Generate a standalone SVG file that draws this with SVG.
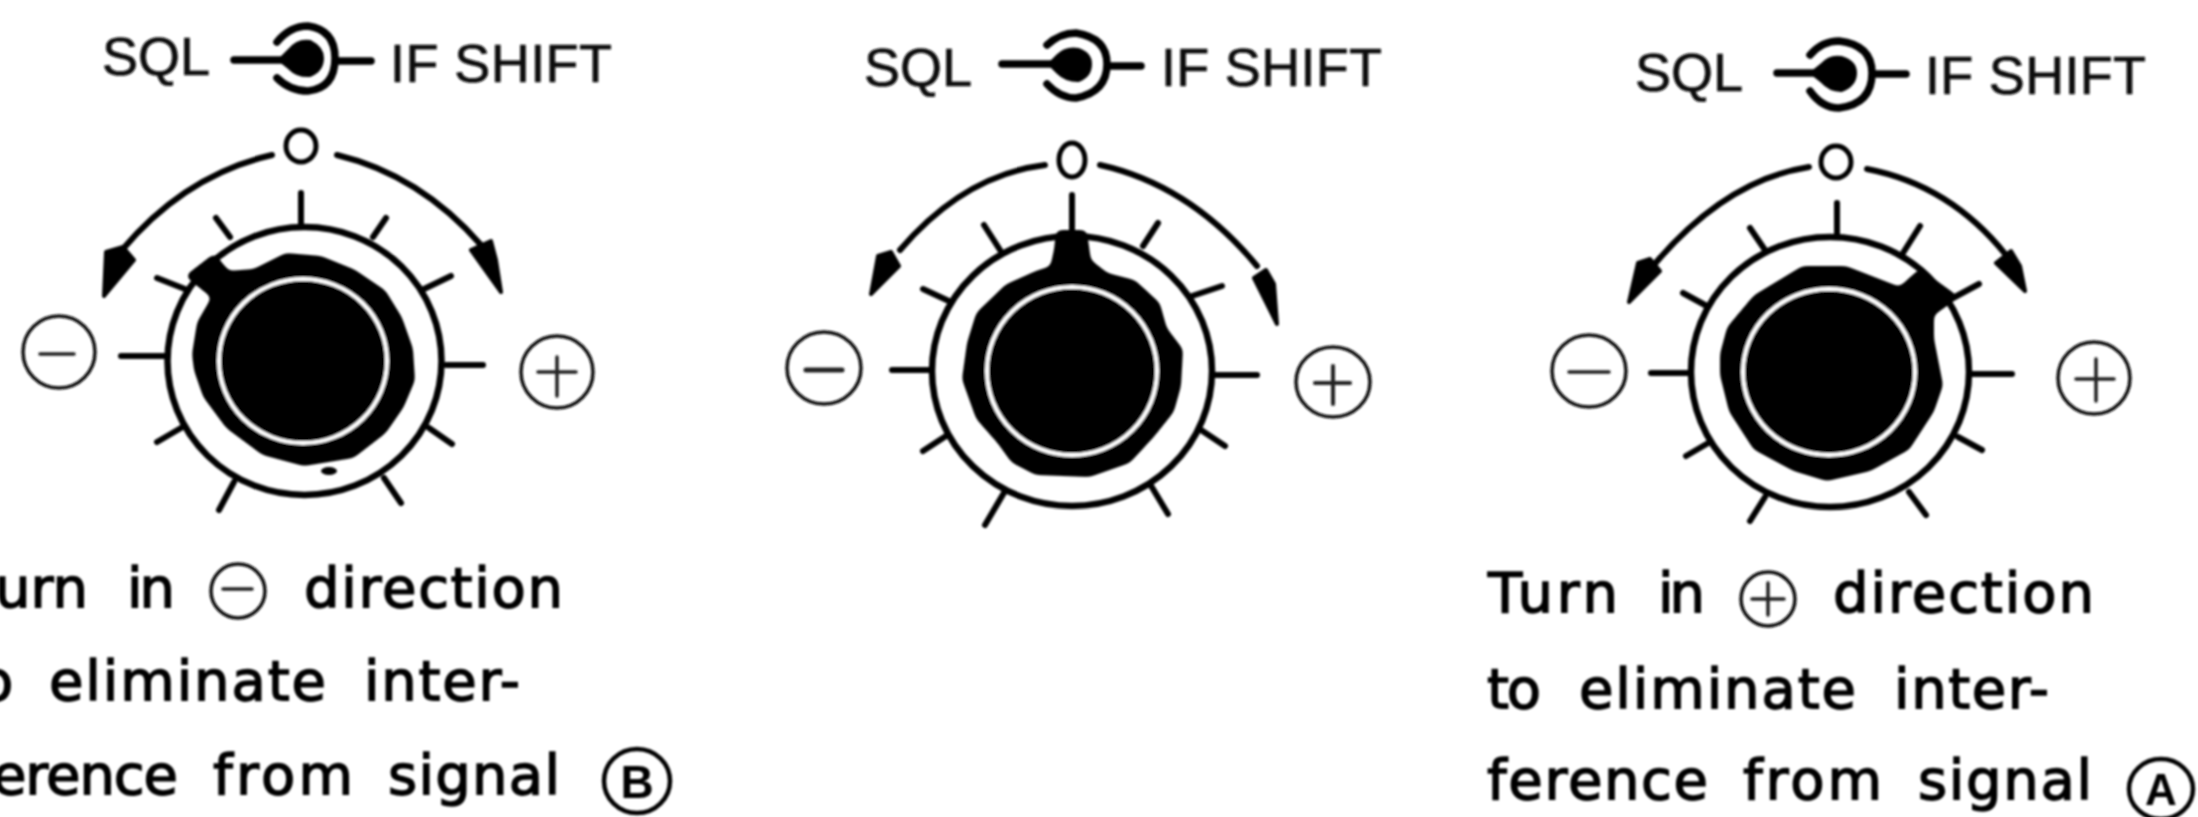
<svg xmlns="http://www.w3.org/2000/svg" width="2198" height="817" viewBox="0 0 2198 817">
<style>
.t{font-family:"Liberation Sans",Arial,sans-serif;fill:#000}
.l{font-size:54px;fill:#111;stroke:#111;stroke-width:.7px}
.b{font-family:"DejaVu Sans","Liberation Sans",sans-serif;font-size:56px;stroke:#000;stroke-width:1.5px}
.r{fill:none;stroke:#000;stroke-width:6.500}
.s{fill:none;stroke:#000;stroke-width:6;stroke-linecap:round}
.a{fill:none;stroke:#000;stroke-width:6;stroke-linecap:round}
.k{fill:#000;stroke:#000;stroke-width:4;stroke-linejoin:round;filter:url(#goo)}
.w{fill:none;stroke:#fff;stroke-width:4}
.c{fill:none;stroke:#111;stroke-width:3.500}
.o{fill:none;stroke:#000;stroke-width:5}
.m{fill:none;stroke:#222;stroke-width:3.500;stroke-linecap:round}
.f{fill:#000;stroke:#000;stroke-width:4;stroke-linejoin:round}
.sw{fill:none;stroke:#000;stroke-width:7.500;stroke-linecap:round}
</style>
<defs>
<filter id="soft" x="-2%" y="-2%" width="104%" height="104%"><feGaussianBlur stdDeviation="0.8"/></filter>
<filter id="goo" x="-10%" y="-10%" width="120%" height="120%"><feGaussianBlur stdDeviation="3"/><feComponentTransfer><feFuncA type="linear" slope="8" intercept="-3.500"/></feComponentTransfer></filter>
</defs>
<rect width="2198" height="817" fill="#fff"/>
<g filter="url(#soft)">
<g id="dial-left">
<text class="t l" x="102" y="75" textLength="108">SQL</text>
<text class="t l" x="390" y="82" textLength="222">IF SHIFT</text>
<path class="sw" d="M234,60H286M277,42Q290,26 308,26Q335,30 335,58Q335,88 308,91Q290,91 277,78M339,61H371"/>
<path class="f" d="M280,60L290,50Q298,40 310,42Q322,48 322,58Q322,70 310,75Q298,76 290,68Z"/>
<ellipse class="o" cx="301" cy="146" rx="15" ry="16"/>
<path class="a" d="M272,155Q185,175 122,250M337,155Q420,175 481,245"/>
<path class="f" d="M104,296L106,252L123,247L134,260Z"/>
<path class="f" d="M501,292L471,250L491,241L496,260Z"/>
<ellipse class="r" cx="304.500" cy="361" rx="137" ry="134"/>
<path class="s" d="M121,356H166M446,365H483M301,193V224M216,218L230,237M386,218L373,237M157,278L185,289M451,276L424,289M157,442L181,428M452,444L429,428M219,510L234,482M401,503L384,478"/>
<path class="k" d="M194,354L199,323L214,297L188,276L214,256L228,273L254,271L286,255L321,258L353,271L384,292L400,318L411,349L413,380L402,406L384,432L353,456L304,464L263,453L228,427L205,396L196,370Z"/>
<ellipse class="w" cx="303" cy="361" rx="84" ry="82"/>
<ellipse cx="329" cy="471" rx="8" ry="4" fill="#000"/>
<ellipse class="c" cx="59" cy="352" rx="36" ry="36"/>
<path class="m" d="M40,354H74"/>
<ellipse class="c" cx="557" cy="372" rx="36" ry="36"/>
<path class="m" d="M538,372H576M557,357V396"/>
<text class="t b" x="-5" y="607" textLength="93">urn</text>
<text class="t b" x="127" y="607" textLength="48">in</text>
<ellipse class="c" cx="238" cy="591" rx="27" ry="27"/>
<path class="m" d="M223,589H252"/>
<text class="t b" x="304" y="607" textLength="259">direction</text>
<text class="t b" x="-21" y="700" textLength="32">o</text>
<text class="t b" x="49" y="700" textLength="277">eliminate</text>
<text class="t b" x="364" y="700" textLength="156">inter-</text>
<text class="t b" x="-8" y="794" textLength="186">erence</text>
<text class="t b" x="213" y="794" textLength="140">from</text>
<text class="t b" x="388" y="794" textLength="172">signal</text>
<ellipse cx="637" cy="781" rx="33" ry="32" fill="none" stroke="#000" stroke-width="4.500"/>
<text class="t" x="637" y="798" text-anchor="middle" font-size="46" font-weight="700">B</text>
</g>
<g id="dial-center">
<text class="t l" x="864" y="86" textLength="108">SQL</text>
<text class="t l" x="1161" y="86" textLength="221">IF SHIFT</text>
<path class="sw" d="M1002,64H1054M1047,45Q1060,33 1076,33Q1107,38 1107,64Q1107,92 1076,98Q1060,98 1047,84M1107,66H1141"/>
<path class="f" d="M1050,64L1058,56Q1066,48 1078,50Q1090,54 1090,64Q1090,76 1078,80Q1066,80 1058,72Z"/>
<ellipse class="o" cx="1072" cy="160" rx="13" ry="17"/>
<path class="a" d="M1045,165Q964,175 900,250M1100,165Q1190,185 1257,266"/>
<path class="f" d="M871,294L878,256L891,252L899,266Z"/>
<path class="f" d="M1277,324L1254,278L1266,270L1274,284Z"/>
<ellipse class="r" cx="1072" cy="371" rx="140" ry="135"/>
<path class="s" d="M892,370H931M1214,375H1257M1072,195V236M984,225L1000,250M1158,223L1143,246M923,289L951,302M1222,286L1192,296M923,451L946,436M1225,446L1201,430M985,525L1005,491M1168,514L1150,484"/>
<path class="k" d="M964,379L969,343L978,314L1007,286L1036,273L1052,268L1056,250L1058,232L1085,232L1089,261L1107,275L1134,282L1158,304L1165,329L1181,350L1179,386L1172,411L1152,436L1129,461L1089,475L1036,473L1013,461L1000,443L978,418Z"/>
<ellipse class="w" cx="1072" cy="371" rx="85" ry="84"/>
<ellipse class="c" cx="824" cy="368" rx="37" ry="36"/>
<path class="m" d="M806,370H842" style="stroke-width:5"/>
<ellipse class="c" cx="1333" cy="382" rx="37" ry="35"/>
<path class="m" d="M1315,383H1350M1333,366V404" style="stroke-width:4"/>
</g>
<g id="dial-right">
<text class="t l" x="1635" y="91" textLength="108">SQL</text>
<text class="t l" x="1925" y="94" textLength="221">IF SHIFT</text>
<path class="sw" d="M1777,73H1817M1810,55Q1822,41 1839,41Q1872,45 1872,73Q1872,104 1839,108Q1822,108 1810,91M1872,74H1906"/>
<path class="f" d="M1812,73L1822,65Q1830,56 1841,58Q1855,62 1855,73Q1855,85 1841,90Q1830,90 1822,81Z"/>
<ellipse class="o" cx="1836" cy="162" rx="15" ry="16"/>
<path class="a" d="M1809,167Q1725,180 1653,266M1867,169Q1950,185 2006,255"/>
<path class="f" d="M1629,302L1638,263L1650,259L1660,271Z"/>
<path class="f" d="M2025,291L1996,263L2011,251L2020,266Z"/>
<ellipse class="r" cx="1830" cy="372" rx="139" ry="135"/>
<path class="s" d="M1651,373H1691M1970,374H2012M1837,203V234M1750,228L1765,250M1920,226L1903,253M1683,293L1705,305M1979,284L1953,298M1686,456L1710,442M1982,450L1958,437M1750,521L1765,497M1926,515L1909,492"/>
<path class="k" d="M1722,354L1729,328L1755,297L1803,268L1846,268L1900,289L1920,271L1956,297L1932,314L1932,339L1941,385L1932,411L1908,448L1870,469L1827,479L1794,469L1755,448L1731,411L1722,375Z"/>
<ellipse class="w" cx="1829" cy="372" rx="86" ry="83"/>
<ellipse class="c" cx="1589" cy="371" rx="37" ry="36"/>
<path class="m" d="M1569,372H1609"/>
<ellipse class="c" cx="2094" cy="378" rx="36" ry="36"/>
<path class="m" d="M2076,379H2114M2096,359V401"/>
<text class="t b" x="1488" y="612" textLength="130">Turn</text>
<text class="t b" x="1658" y="612" textLength="47">in</text>
<ellipse class="c" cx="1768" cy="599" rx="27" ry="27"/>
<path class="m" d="M1752,599H1784M1768,583V615"/>
<text class="t b" x="1833" y="612" textLength="261">direction</text>
<text class="t b" x="1487" y="708" textLength="54">to</text>
<text class="t b" x="1579" y="708" textLength="277">eliminate</text>
<text class="t b" x="1894" y="708" textLength="155">inter-</text>
<text class="t b" x="1487" y="799" textLength="221">ference</text>
<text class="t b" x="1743" y="799" textLength="139">from</text>
<text class="t b" x="1918" y="799" textLength="174">signal</text>
<ellipse cx="2161" cy="789" rx="32" ry="30" fill="none" stroke="#000" stroke-width="4.500"/>
<text class="t" x="2161" y="805" text-anchor="middle" font-size="44" font-weight="700">A</text>
</g>
</g>
</svg>
